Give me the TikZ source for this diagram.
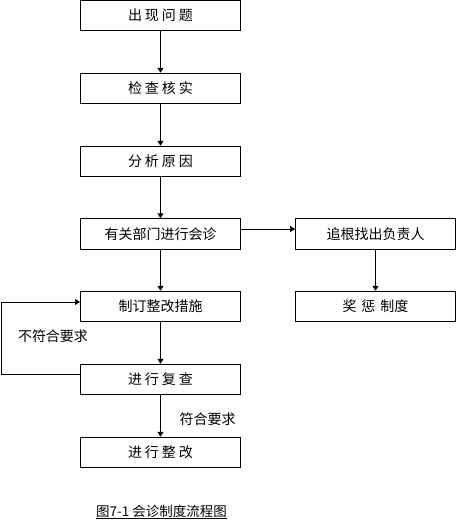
\documentclass[tikz,border=0pt]{standalone}
\usepackage{fontspec}
\setmainfont{Noto Sans CJK SC}
\usetikzlibrary{arrows.meta}
\newcommand{\gp}{\hspace{3pt}}
\begin{document}
\begin{tikzpicture}[x=1pt,y=-1pt,
  box/.style={draw, line width=1pt, minimum width=160pt, minimum height=30.5pt, inner sep=0pt, font=\fontsize{14}{15}\selectfont},
  arr/.style={-{Triangle[length=5pt,width=6pt]}, line width=1pt},
  lbl/.style={font=\fontsize{14}{15}\selectfont, inner sep=0pt}]
\useasboundingbox (0,0) rectangle (456,531);
\node[box] (b1) at (160.5,15.5) {出\gp 现\gp 问\gp 题};
\node[box] (b2) at (160.5,88.5) {检\gp 查\gp 核\gp 实};
\node[box] (b3) at (160.5,161.5) {分\gp 析\gp 原\gp 因};
\node[box] (b4) at (160.5,234) {有关部门进行会诊};
\node[box] (r1) at (375.5,234) {追根找出负责人};
\node[box] (b5) at (160.5,306.5) {制订整改措施};
\node[box] (r2) at (375.5,306.5) {奖\hspace{5pt}惩\hspace{5pt}制度};
\node[box] (b6) at (160.5,379.5) {进\gp 行\gp 复\gp 查};
\node[box] (b7) at (160.5,452.5) {进\gp 行\gp 整\gp 改};
\draw[arr] (b1) -- (b2);
\draw[arr] (b2) -- (b3);
\draw[arr] (b3) -- (b4);
\draw[arr] (b4) -- (b5);
\draw[arr] (b5) -- (b6);
\draw[arr] (b6) -- (b7);
\draw[arr] (r1) -- (r2);
\draw[arr] ([yshift=5pt]b4.east) -- ([yshift=5pt]r1.west);
\coordinate (lc) at (1,302);
\draw[arr] ([yshift=5.5pt]b6.west) -| (lc) -- ([yshift=4.5pt]b5.west);
\node[lbl] (l1) at (53,336) {不符合要求};
\node[lbl] (l2) at (207.5,419) {符合要求};
\node[lbl, font=\fontsize{13.5}{14}\selectfont] (cap) at (161.5,511.5) {图7-1 会诊制度流程图};
\draw[line width=0.8pt] ([yshift=-0.5pt]cap.south west) -- ([yshift=-0.5pt]cap.south east);
\end{tikzpicture}
\end{document}
